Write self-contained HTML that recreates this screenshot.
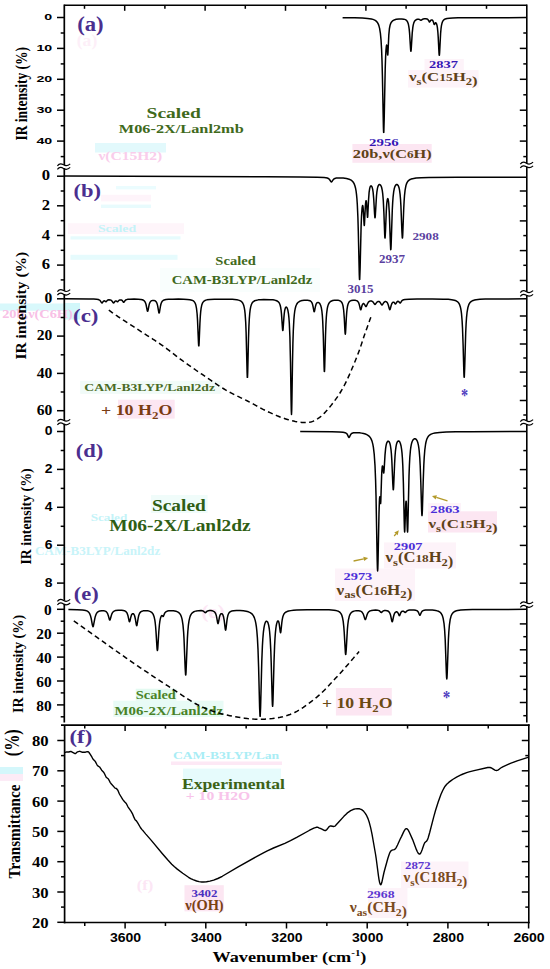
<!DOCTYPE html>
<html><head><meta charset="utf-8"><style>
html,body{margin:0;padding:0;background:#fff;}
svg{display:block;}
</style></head><body>
<svg width="550" height="969" viewBox="0 0 550 969">
<rect width="550" height="969" fill="#fff"/>
<rect x="424.5" y="59.0" width="39.3" height="11.5" fill="#fdf3f9"/>
<rect x="408.0" y="70.0" width="70.6" height="17.6" fill="#fdf3f9"/>
<rect x="352.4" y="144.0" width="79.3" height="18.8" fill="#fce6f2"/>
<rect x="118.0" y="399.7" width="56.7" height="18.9" fill="#fce6f2"/>
<rect x="80.2" y="380.8" width="141.1" height="13.1" fill="#f1fbf8"/>
<rect x="160.0" y="268.0" width="160.0" height="24.0" fill="#f9fefd"/>
<rect x="335.9" y="688.0" width="55.9" height="27.5" fill="#fce6f2"/>
<rect x="428.0" y="503.0" width="33.0" height="8.3" fill="#fdf3f9"/>
<rect x="428.0" y="511.3" width="69.0" height="21.2" fill="#fce6f2"/>
<rect x="384.0" y="542.4" width="72.0" height="26.1" fill="#fdf3f9"/>
<rect x="335.0" y="568.5" width="80.0" height="32.5" fill="#fdf3f9"/>
<rect x="184.5" y="885.2" width="39.3" height="26.2" fill="#fce6f2"/>
<rect x="401.0" y="861.5" width="67.5" height="26.5" fill="#fdf3f9"/>
<rect x="368.0" y="888.0" width="39.4" height="30.0" fill="#fdf3f9"/>
<rect x="151.0" y="495.0" width="56.6" height="18.0" fill="#f0fcfa"/>
<rect x="135.7" y="688.7" width="40.8" height="12.0" fill="#e3faf1"/>
<rect x="113.3" y="700.7" width="110.2" height="16.3" fill="#e8fbf6"/>
<rect x="183.0" y="768.6" width="98.0" height="21.4" fill="#e6fbfc"/>
<rect x="0.0" y="303.5" width="78.0" height="7.2" fill="#d8f8fb"/>
<rect x="0.0" y="767.0" width="23.0" height="7.0" fill="#d4f7fb"/>
<rect x="0.0" y="774.0" width="23.0" height="7.0" fill="#fcebf6"/>
<rect x="95.0" y="143.0" width="71.0" height="9.5" fill="#e2f9fc"/>
<rect x="65.0" y="303.0" width="15.0" height="16.5" fill="#d2f7fa"/>
<rect x="171.0" y="761.5" width="111.0" height="3.5" fill="#fde8f5"/>
<text transform="translate(37.5,318) scale(1.25,1)" font-family="Liberation Serif, serif" font-size="11.5" font-weight="bold" fill="#f8c0e6" text-anchor="middle">20b,ν(C6H)</text>
<text transform="translate(130.3,160.3) scale(1.35,1)" font-family="Liberation Serif, serif" font-size="11.5" font-weight="bold" fill="#f9cdeb" text-anchor="middle">ν(C15H2)</text>
<text transform="translate(226,759) scale(1.3,1)" font-family="Liberation Serif, serif" font-size="10.5" font-weight="bold" fill="#a9edf5" text-anchor="middle">CAM-B3LYP/Lan</text>
<text transform="translate(218,800) scale(1.3,1)" font-family="Liberation Serif, serif" font-size="12" font-weight="bold" fill="#f8c4ea" text-anchor="middle">+ 10 H2O</text>
<text transform="translate(109,521) scale(1.2,1)" font-family="Liberation Serif, serif" font-size="11" font-weight="bold" fill="#c4f3f8" text-anchor="middle">Scaled</text>
<clipPath id="cl1"><rect x="64.5" y="530" width="200" height="40"/></clipPath>
<text transform="translate(35,555) scale(1.09,1)" font-family="Liberation Serif, serif" font-size="12" font-weight="bold" fill="#c8f4f9" text-anchor="start">CAM-B3LYP/Lanl2dz</text>
<rect x="116.0" y="186.0" width="40.0" height="3.4" fill="#ebfcfe"/>
<rect x="101.0" y="194.8" width="50.0" height="6.6" fill="#fef4fa"/>
<rect x="101.0" y="204.6" width="50.0" height="3.4" fill="#e8fbfd"/>
<rect x="68.0" y="223.2" width="116.0" height="10.8" fill="#fef5fa"/>
<rect x="70.5" y="236.3" width="110.0" height="3.2" fill="#e6fbfd"/>
<rect x="70.5" y="254.8" width="107.0" height="5.0" fill="#e6fbfd"/>
<text transform="translate(117,232) scale(1.25,1)" font-family="Liberation Serif, serif" font-size="11" font-weight="bold" fill="#c4f3f8" text-anchor="middle">Scaled</text>
<text transform="translate(87,46) scale(1.1,1)" font-family="Liberation Serif, serif" font-size="16" font-weight="bold" fill="#fdeff8" text-anchor="middle">(a)</text>
<text transform="translate(213,618) scale(1.1,1)" font-family="Liberation Serif, serif" font-size="19" font-weight="bold" fill="#fce6f4" text-anchor="middle">(e)</text>
<text transform="translate(145,890) scale(1.1,1)" font-family="Liberation Serif, serif" font-size="15" font-weight="bold" fill="#fce6f5" text-anchor="middle">(f)</text>
<line x1="64.30" y1="5.30" x2="526.80" y2="5.30" stroke="#000" stroke-width="1.6" />
<line x1="64.30" y1="4.50" x2="64.30" y2="722.50" stroke="#000" stroke-width="1.7" />
<line x1="526.80" y1="4.50" x2="526.80" y2="722.50" stroke="#000" stroke-width="1.6" />
<line x1="61.00" y1="725.10" x2="529.60" y2="725.10" stroke="#000" stroke-width="1.6" />
<line x1="64.60" y1="725.10" x2="64.60" y2="923.30" stroke="#000" stroke-width="1.7" />
<line x1="528.80" y1="724.30" x2="528.80" y2="923.30" stroke="#000" stroke-width="1.6" />
<line x1="63.80" y1="922.50" x2="529.60" y2="922.50" stroke="#000" stroke-width="1.6" />
<line x1="84.50" y1="5.30" x2="84.50" y2="8.80" stroke="#000" stroke-width="1.5" />
<line x1="124.70" y1="5.30" x2="124.70" y2="10.80" stroke="#000" stroke-width="1.5" />
<line x1="164.90" y1="5.30" x2="164.90" y2="8.80" stroke="#000" stroke-width="1.5" />
<line x1="205.10" y1="5.30" x2="205.10" y2="10.80" stroke="#000" stroke-width="1.5" />
<line x1="245.30" y1="5.30" x2="245.30" y2="8.80" stroke="#000" stroke-width="1.5" />
<line x1="285.50" y1="5.30" x2="285.50" y2="10.80" stroke="#000" stroke-width="1.5" />
<line x1="325.70" y1="5.30" x2="325.70" y2="8.80" stroke="#000" stroke-width="1.5" />
<line x1="365.90" y1="5.30" x2="365.90" y2="10.80" stroke="#000" stroke-width="1.5" />
<line x1="406.10" y1="5.30" x2="406.10" y2="8.80" stroke="#000" stroke-width="1.5" />
<line x1="446.30" y1="5.30" x2="446.30" y2="10.80" stroke="#000" stroke-width="1.5" />
<line x1="486.50" y1="5.30" x2="486.50" y2="8.80" stroke="#000" stroke-width="1.5" />
<line x1="84.75" y1="725.10" x2="84.75" y2="728.60" stroke="#000" stroke-width="1.5" />
<line x1="84.75" y1="922.50" x2="84.75" y2="926.00" stroke="#000" stroke-width="1.5" />
<line x1="125.10" y1="725.10" x2="125.10" y2="731.10" stroke="#000" stroke-width="1.5" />
<line x1="125.10" y1="922.50" x2="125.10" y2="928.50" stroke="#000" stroke-width="1.5" />
<line x1="165.45" y1="725.10" x2="165.45" y2="728.60" stroke="#000" stroke-width="1.5" />
<line x1="165.45" y1="922.50" x2="165.45" y2="926.00" stroke="#000" stroke-width="1.5" />
<line x1="205.80" y1="725.10" x2="205.80" y2="731.10" stroke="#000" stroke-width="1.5" />
<line x1="205.80" y1="922.50" x2="205.80" y2="928.50" stroke="#000" stroke-width="1.5" />
<line x1="246.15" y1="725.10" x2="246.15" y2="728.60" stroke="#000" stroke-width="1.5" />
<line x1="246.15" y1="922.50" x2="246.15" y2="926.00" stroke="#000" stroke-width="1.5" />
<line x1="286.50" y1="725.10" x2="286.50" y2="731.10" stroke="#000" stroke-width="1.5" />
<line x1="286.50" y1="922.50" x2="286.50" y2="928.50" stroke="#000" stroke-width="1.5" />
<line x1="326.85" y1="725.10" x2="326.85" y2="728.60" stroke="#000" stroke-width="1.5" />
<line x1="326.85" y1="922.50" x2="326.85" y2="926.00" stroke="#000" stroke-width="1.5" />
<line x1="367.20" y1="725.10" x2="367.20" y2="731.10" stroke="#000" stroke-width="1.5" />
<line x1="367.20" y1="922.50" x2="367.20" y2="928.50" stroke="#000" stroke-width="1.5" />
<line x1="407.55" y1="725.10" x2="407.55" y2="728.60" stroke="#000" stroke-width="1.5" />
<line x1="407.55" y1="922.50" x2="407.55" y2="926.00" stroke="#000" stroke-width="1.5" />
<line x1="447.90" y1="725.10" x2="447.90" y2="731.10" stroke="#000" stroke-width="1.5" />
<line x1="447.90" y1="922.50" x2="447.90" y2="928.50" stroke="#000" stroke-width="1.5" />
<line x1="488.25" y1="725.10" x2="488.25" y2="728.60" stroke="#000" stroke-width="1.5" />
<line x1="488.25" y1="922.50" x2="488.25" y2="926.00" stroke="#000" stroke-width="1.5" />
<line x1="528.60" y1="922.50" x2="528.60" y2="928.50" stroke="#000" stroke-width="1.5" />
<line x1="57.00" y1="17.50" x2="64.30" y2="17.50" stroke="#000" stroke-width="1.5" />
<line x1="57.00" y1="48.40" x2="64.30" y2="48.40" stroke="#000" stroke-width="1.5" />
<line x1="57.00" y1="79.30" x2="64.30" y2="79.30" stroke="#000" stroke-width="1.5" />
<line x1="57.00" y1="110.20" x2="64.30" y2="110.20" stroke="#000" stroke-width="1.5" />
<line x1="57.00" y1="141.10" x2="64.30" y2="141.10" stroke="#000" stroke-width="1.5" />
<line x1="60.70" y1="33.00" x2="64.30" y2="33.00" stroke="#000" stroke-width="1.5" />
<line x1="60.70" y1="63.90" x2="64.30" y2="63.90" stroke="#000" stroke-width="1.5" />
<line x1="60.70" y1="94.80" x2="64.30" y2="94.80" stroke="#000" stroke-width="1.5" />
<line x1="60.70" y1="125.70" x2="64.30" y2="125.70" stroke="#000" stroke-width="1.5" />
<line x1="60.70" y1="156.60" x2="64.30" y2="156.60" stroke="#000" stroke-width="1.5" />
<line x1="519.80" y1="48.40" x2="526.80" y2="48.40" stroke="#000" stroke-width="1.5" />
<line x1="519.80" y1="79.30" x2="526.80" y2="79.30" stroke="#000" stroke-width="1.5" />
<line x1="519.80" y1="110.20" x2="526.80" y2="110.20" stroke="#000" stroke-width="1.5" />
<line x1="519.80" y1="141.10" x2="526.80" y2="141.10" stroke="#000" stroke-width="1.5" />
<line x1="523.30" y1="33.00" x2="526.80" y2="33.00" stroke="#000" stroke-width="1.5" />
<line x1="523.30" y1="63.90" x2="526.80" y2="63.90" stroke="#000" stroke-width="1.5" />
<line x1="523.30" y1="94.80" x2="526.80" y2="94.80" stroke="#000" stroke-width="1.5" />
<line x1="523.30" y1="125.70" x2="526.80" y2="125.70" stroke="#000" stroke-width="1.5" />
<line x1="523.30" y1="156.60" x2="526.80" y2="156.60" stroke="#000" stroke-width="1.5" />
<text transform="translate(52.30,20.40) scale(1.431,1)" font-family="'Liberation Sans', sans-serif" font-size="9.96" font-weight="bold" fill="#000" text-anchor="end" >0</text>
<text transform="translate(52.30,51.30) scale(1.431,1)" font-family="'Liberation Sans', sans-serif" font-size="9.96" font-weight="bold" fill="#000" text-anchor="end" >10</text>
<text transform="translate(52.30,82.20) scale(1.431,1)" font-family="'Liberation Sans', sans-serif" font-size="9.96" font-weight="bold" fill="#000" text-anchor="end" >20</text>
<text transform="translate(52.30,113.10) scale(1.431,1)" font-family="'Liberation Sans', sans-serif" font-size="9.96" font-weight="bold" fill="#000" text-anchor="end" >30</text>
<text transform="translate(52.30,144.00) scale(1.431,1)" font-family="'Liberation Sans', sans-serif" font-size="9.96" font-weight="bold" fill="#000" text-anchor="end" >40</text>
<line x1="57.00" y1="176.20" x2="64.30" y2="176.20" stroke="#000" stroke-width="1.5" />
<line x1="57.00" y1="205.80" x2="64.30" y2="205.80" stroke="#000" stroke-width="1.5" />
<line x1="57.00" y1="235.50" x2="64.30" y2="235.50" stroke="#000" stroke-width="1.5" />
<line x1="57.00" y1="265.10" x2="64.30" y2="265.10" stroke="#000" stroke-width="1.5" />
<line x1="60.70" y1="191.00" x2="64.30" y2="191.00" stroke="#000" stroke-width="1.5" />
<line x1="60.70" y1="220.70" x2="64.30" y2="220.70" stroke="#000" stroke-width="1.5" />
<line x1="60.70" y1="250.30" x2="64.30" y2="250.30" stroke="#000" stroke-width="1.5" />
<line x1="60.70" y1="279.90" x2="64.30" y2="279.90" stroke="#000" stroke-width="1.5" />
<line x1="519.80" y1="191.00" x2="526.80" y2="191.00" stroke="#000" stroke-width="1.5" />
<line x1="519.80" y1="220.90" x2="526.80" y2="220.90" stroke="#000" stroke-width="1.5" />
<line x1="519.80" y1="250.60" x2="526.80" y2="250.60" stroke="#000" stroke-width="1.5" />
<line x1="519.80" y1="280.50" x2="526.80" y2="280.50" stroke="#000" stroke-width="1.5" />
<line x1="523.30" y1="206.00" x2="526.80" y2="206.00" stroke="#000" stroke-width="1.5" />
<line x1="523.30" y1="235.60" x2="526.80" y2="235.60" stroke="#000" stroke-width="1.5" />
<line x1="523.30" y1="265.30" x2="526.80" y2="265.30" stroke="#000" stroke-width="1.5" />
<text transform="translate(50.03,180.40) scale(1.095,1)" font-family="'Liberation Serif', serif" font-size="15.18" font-weight="bold" fill="#000" text-anchor="end" >0</text>
<text transform="translate(50.03,210.00) scale(1.095,1)" font-family="'Liberation Serif', serif" font-size="15.18" font-weight="bold" fill="#000" text-anchor="end" >2</text>
<text transform="translate(50.03,239.70) scale(1.095,1)" font-family="'Liberation Serif', serif" font-size="15.18" font-weight="bold" fill="#000" text-anchor="end" >4</text>
<text transform="translate(50.03,269.30) scale(1.095,1)" font-family="'Liberation Serif', serif" font-size="15.18" font-weight="bold" fill="#000" text-anchor="end" >6</text>
<line x1="57.00" y1="298.80" x2="64.30" y2="298.80" stroke="#000" stroke-width="1.5" />
<line x1="57.00" y1="336.10" x2="64.30" y2="336.10" stroke="#000" stroke-width="1.5" />
<line x1="57.00" y1="373.40" x2="64.30" y2="373.40" stroke="#000" stroke-width="1.5" />
<line x1="57.00" y1="410.70" x2="64.30" y2="410.70" stroke="#000" stroke-width="1.5" />
<line x1="60.70" y1="317.50" x2="64.30" y2="317.50" stroke="#000" stroke-width="1.5" />
<line x1="60.70" y1="354.80" x2="64.30" y2="354.80" stroke="#000" stroke-width="1.5" />
<line x1="60.70" y1="392.00" x2="64.30" y2="392.00" stroke="#000" stroke-width="1.5" />
<line x1="519.80" y1="316.00" x2="526.80" y2="316.00" stroke="#000" stroke-width="1.5" />
<line x1="519.80" y1="344.00" x2="526.80" y2="344.00" stroke="#000" stroke-width="1.5" />
<line x1="519.80" y1="372.10" x2="526.80" y2="372.10" stroke="#000" stroke-width="1.5" />
<line x1="519.80" y1="400.50" x2="526.80" y2="400.50" stroke="#000" stroke-width="1.5" />
<line x1="523.30" y1="330.00" x2="526.80" y2="330.00" stroke="#000" stroke-width="1.5" />
<line x1="523.30" y1="358.00" x2="526.80" y2="358.00" stroke="#000" stroke-width="1.5" />
<line x1="523.30" y1="386.10" x2="526.80" y2="386.10" stroke="#000" stroke-width="1.5" />
<line x1="523.30" y1="415.00" x2="526.80" y2="415.00" stroke="#000" stroke-width="1.5" />
<text transform="translate(52.30,303.10) scale(1.116,1)" font-family="'Liberation Serif', serif" font-size="13.98" font-weight="bold" fill="#000" text-anchor="end" >0</text>
<text transform="translate(52.30,340.40) scale(1.116,1)" font-family="'Liberation Serif', serif" font-size="13.98" font-weight="bold" fill="#000" text-anchor="end" >20</text>
<text transform="translate(52.30,377.70) scale(1.116,1)" font-family="'Liberation Serif', serif" font-size="13.98" font-weight="bold" fill="#000" text-anchor="end" >40</text>
<text transform="translate(52.30,415.00) scale(1.116,1)" font-family="'Liberation Serif', serif" font-size="13.98" font-weight="bold" fill="#000" text-anchor="end" >60</text>
<line x1="57.00" y1="431.50" x2="64.30" y2="431.50" stroke="#000" stroke-width="1.5" />
<line x1="57.00" y1="469.40" x2="64.30" y2="469.40" stroke="#000" stroke-width="1.5" />
<line x1="57.00" y1="507.30" x2="64.30" y2="507.30" stroke="#000" stroke-width="1.5" />
<line x1="57.00" y1="545.20" x2="64.30" y2="545.20" stroke="#000" stroke-width="1.5" />
<line x1="57.00" y1="583.10" x2="64.30" y2="583.10" stroke="#000" stroke-width="1.5" />
<line x1="60.70" y1="450.50" x2="64.30" y2="450.50" stroke="#000" stroke-width="1.5" />
<line x1="60.70" y1="488.40" x2="64.30" y2="488.40" stroke="#000" stroke-width="1.5" />
<line x1="60.70" y1="526.30" x2="64.30" y2="526.30" stroke="#000" stroke-width="1.5" />
<line x1="60.70" y1="564.20" x2="64.30" y2="564.20" stroke="#000" stroke-width="1.5" />
<line x1="519.80" y1="469.60" x2="526.80" y2="469.60" stroke="#000" stroke-width="1.5" />
<line x1="519.80" y1="507.40" x2="526.80" y2="507.40" stroke="#000" stroke-width="1.5" />
<line x1="519.80" y1="545.40" x2="526.80" y2="545.40" stroke="#000" stroke-width="1.5" />
<line x1="519.80" y1="583.20" x2="526.80" y2="583.20" stroke="#000" stroke-width="1.5" />
<line x1="523.30" y1="450.60" x2="526.80" y2="450.60" stroke="#000" stroke-width="1.5" />
<line x1="523.30" y1="488.20" x2="526.80" y2="488.20" stroke="#000" stroke-width="1.5" />
<line x1="523.30" y1="526.40" x2="526.80" y2="526.40" stroke="#000" stroke-width="1.5" />
<line x1="523.30" y1="564.00" x2="526.80" y2="564.00" stroke="#000" stroke-width="1.5" />
<text transform="translate(52.44,435.10) scale(1.059,1)" font-family="'Liberation Sans', sans-serif" font-size="13.14" font-weight="bold" fill="#000" text-anchor="end" >0</text>
<text transform="translate(52.44,473.00) scale(1.059,1)" font-family="'Liberation Sans', sans-serif" font-size="13.14" font-weight="bold" fill="#000" text-anchor="end" >2</text>
<text transform="translate(52.44,510.90) scale(1.059,1)" font-family="'Liberation Sans', sans-serif" font-size="13.14" font-weight="bold" fill="#000" text-anchor="end" >4</text>
<text transform="translate(52.44,548.80) scale(1.059,1)" font-family="'Liberation Sans', sans-serif" font-size="13.14" font-weight="bold" fill="#000" text-anchor="end" >6</text>
<text transform="translate(52.44,586.70) scale(1.059,1)" font-family="'Liberation Sans', sans-serif" font-size="13.14" font-weight="bold" fill="#000" text-anchor="end" >8</text>
<line x1="57.00" y1="609.30" x2="64.30" y2="609.30" stroke="#000" stroke-width="1.5" />
<line x1="57.00" y1="633.20" x2="64.30" y2="633.20" stroke="#000" stroke-width="1.5" />
<line x1="57.00" y1="657.10" x2="64.30" y2="657.10" stroke="#000" stroke-width="1.5" />
<line x1="57.00" y1="681.00" x2="64.30" y2="681.00" stroke="#000" stroke-width="1.5" />
<line x1="57.00" y1="704.90" x2="64.30" y2="704.90" stroke="#000" stroke-width="1.5" />
<line x1="60.70" y1="621.20" x2="64.30" y2="621.20" stroke="#000" stroke-width="1.5" />
<line x1="60.70" y1="645.10" x2="64.30" y2="645.10" stroke="#000" stroke-width="1.5" />
<line x1="60.70" y1="669.00" x2="64.30" y2="669.00" stroke="#000" stroke-width="1.5" />
<line x1="60.70" y1="692.90" x2="64.30" y2="692.90" stroke="#000" stroke-width="1.5" />
<line x1="60.70" y1="716.80" x2="64.30" y2="716.80" stroke="#000" stroke-width="1.5" />
<line x1="519.80" y1="623.90" x2="526.80" y2="623.90" stroke="#000" stroke-width="1.5" />
<line x1="519.80" y1="649.80" x2="526.80" y2="649.80" stroke="#000" stroke-width="1.5" />
<line x1="519.80" y1="676.30" x2="526.80" y2="676.30" stroke="#000" stroke-width="1.5" />
<line x1="519.80" y1="702.50" x2="526.80" y2="702.50" stroke="#000" stroke-width="1.5" />
<line x1="523.30" y1="636.70" x2="526.80" y2="636.70" stroke="#000" stroke-width="1.5" />
<line x1="523.30" y1="663.00" x2="526.80" y2="663.00" stroke="#000" stroke-width="1.5" />
<line x1="523.30" y1="689.40" x2="526.80" y2="689.40" stroke="#000" stroke-width="1.5" />
<line x1="523.30" y1="715.70" x2="526.80" y2="715.70" stroke="#000" stroke-width="1.5" />
<text transform="translate(51.68,615.00) scale(1.054,1)" font-family="'Liberation Serif', serif" font-size="14.58" font-weight="bold" fill="#000" text-anchor="end" >0</text>
<text transform="translate(51.68,638.90) scale(1.054,1)" font-family="'Liberation Serif', serif" font-size="14.58" font-weight="bold" fill="#000" text-anchor="end" >20</text>
<text transform="translate(51.68,662.80) scale(1.054,1)" font-family="'Liberation Serif', serif" font-size="14.58" font-weight="bold" fill="#000" text-anchor="end" >40</text>
<text transform="translate(51.68,686.70) scale(1.054,1)" font-family="'Liberation Serif', serif" font-size="14.58" font-weight="bold" fill="#000" text-anchor="end" >60</text>
<text transform="translate(51.68,710.60) scale(1.054,1)" font-family="'Liberation Serif', serif" font-size="14.58" font-weight="bold" fill="#000" text-anchor="end" >80</text>
<line x1="57.30" y1="740.50" x2="64.60" y2="740.50" stroke="#000" stroke-width="1.5" />
<line x1="57.30" y1="770.80" x2="64.60" y2="770.80" stroke="#000" stroke-width="1.5" />
<line x1="57.30" y1="801.10" x2="64.60" y2="801.10" stroke="#000" stroke-width="1.5" />
<line x1="57.30" y1="831.40" x2="64.60" y2="831.40" stroke="#000" stroke-width="1.5" />
<line x1="57.30" y1="861.70" x2="64.60" y2="861.70" stroke="#000" stroke-width="1.5" />
<line x1="57.30" y1="892.00" x2="64.60" y2="892.00" stroke="#000" stroke-width="1.5" />
<line x1="57.30" y1="922.30" x2="64.60" y2="922.30" stroke="#000" stroke-width="1.5" />
<line x1="61.00" y1="755.60" x2="64.60" y2="755.60" stroke="#000" stroke-width="1.5" />
<line x1="61.00" y1="785.90" x2="64.60" y2="785.90" stroke="#000" stroke-width="1.5" />
<line x1="61.00" y1="816.20" x2="64.60" y2="816.20" stroke="#000" stroke-width="1.5" />
<line x1="61.00" y1="846.50" x2="64.60" y2="846.50" stroke="#000" stroke-width="1.5" />
<line x1="61.00" y1="876.80" x2="64.60" y2="876.80" stroke="#000" stroke-width="1.5" />
<line x1="61.00" y1="907.10" x2="64.60" y2="907.10" stroke="#000" stroke-width="1.5" />
<line x1="521.80" y1="740.50" x2="528.80" y2="740.50" stroke="#000" stroke-width="1.5" />
<line x1="521.80" y1="770.80" x2="528.80" y2="770.80" stroke="#000" stroke-width="1.5" />
<line x1="521.80" y1="801.10" x2="528.80" y2="801.10" stroke="#000" stroke-width="1.5" />
<line x1="521.80" y1="831.40" x2="528.80" y2="831.40" stroke="#000" stroke-width="1.5" />
<line x1="521.80" y1="861.70" x2="528.80" y2="861.70" stroke="#000" stroke-width="1.5" />
<line x1="521.80" y1="892.00" x2="528.80" y2="892.00" stroke="#000" stroke-width="1.5" />
<line x1="525.30" y1="755.60" x2="528.80" y2="755.60" stroke="#000" stroke-width="1.5" />
<line x1="525.30" y1="785.90" x2="528.80" y2="785.90" stroke="#000" stroke-width="1.5" />
<line x1="525.30" y1="816.20" x2="528.80" y2="816.20" stroke="#000" stroke-width="1.5" />
<line x1="525.30" y1="846.50" x2="528.80" y2="846.50" stroke="#000" stroke-width="1.5" />
<line x1="525.30" y1="876.80" x2="528.80" y2="876.80" stroke="#000" stroke-width="1.5" />
<line x1="525.30" y1="907.10" x2="528.80" y2="907.10" stroke="#000" stroke-width="1.5" />
<text transform="translate(48.57,746.10) scale(1.069,1)" font-family="'Liberation Serif', serif" font-size="15.58" font-weight="bold" fill="#000" text-anchor="end" >80</text>
<text transform="translate(48.57,776.40) scale(1.069,1)" font-family="'Liberation Serif', serif" font-size="15.58" font-weight="bold" fill="#000" text-anchor="end" >70</text>
<text transform="translate(48.57,806.70) scale(1.069,1)" font-family="'Liberation Serif', serif" font-size="15.58" font-weight="bold" fill="#000" text-anchor="end" >60</text>
<text transform="translate(48.57,837.00) scale(1.069,1)" font-family="'Liberation Serif', serif" font-size="15.58" font-weight="bold" fill="#000" text-anchor="end" >50</text>
<text transform="translate(48.57,867.30) scale(1.069,1)" font-family="'Liberation Serif', serif" font-size="15.58" font-weight="bold" fill="#000" text-anchor="end" >40</text>
<text transform="translate(48.57,897.60) scale(1.069,1)" font-family="'Liberation Serif', serif" font-size="15.58" font-weight="bold" fill="#000" text-anchor="end" >30</text>
<text transform="translate(48.57,927.90) scale(1.069,1)" font-family="'Liberation Serif', serif" font-size="15.58" font-weight="bold" fill="#000" text-anchor="end" >20</text>
<text transform="translate(125.55,942.40) scale(1.086,1)" font-family="'Liberation Sans', sans-serif" font-size="12.93" font-weight="bold" fill="#000" text-anchor="middle" >3600</text>
<text transform="translate(206.25,942.40) scale(1.086,1)" font-family="'Liberation Sans', sans-serif" font-size="12.93" font-weight="bold" fill="#000" text-anchor="middle" >3400</text>
<text transform="translate(286.95,942.40) scale(1.086,1)" font-family="'Liberation Sans', sans-serif" font-size="12.93" font-weight="bold" fill="#000" text-anchor="middle" >3200</text>
<text transform="translate(367.65,942.40) scale(1.086,1)" font-family="'Liberation Sans', sans-serif" font-size="12.93" font-weight="bold" fill="#000" text-anchor="middle" >3000</text>
<text transform="translate(448.35,942.40) scale(1.086,1)" font-family="'Liberation Sans', sans-serif" font-size="12.93" font-weight="bold" fill="#000" text-anchor="middle" >2800</text>
<text transform="translate(529.05,942.40) scale(1.086,1)" font-family="'Liberation Sans', sans-serif" font-size="12.93" font-weight="bold" fill="#000" text-anchor="middle" >2600</text>
<rect x="62.8" y="165.0" width="3" height="3.2" fill="#fff"/>
<path d="M57.4,165.8 C59.2,163.2 61.7,163.6 63.5,164.8 S67.7,166.2 70.2,163.8" fill="none" stroke="#000" stroke-width="1.15"/>
<path d="M57.4,169.4 C59.2,166.8 61.7,167.2 63.5,168.4 S67.7,169.8 70.2,167.4" fill="none" stroke="#000" stroke-width="1.15"/>
<rect x="62.8" y="290.8" width="3" height="3.2" fill="#fff"/>
<path d="M57.4,291.6 C59.2,289.0 61.7,289.4 63.5,290.6 S67.7,292.0 70.2,289.6" fill="none" stroke="#000" stroke-width="1.15"/>
<path d="M57.4,295.2 C59.2,292.6 61.7,293.0 63.5,294.2 S67.7,295.6 70.2,293.2" fill="none" stroke="#000" stroke-width="1.15"/>
<rect x="62.8" y="420.5" width="3" height="3.2" fill="#fff"/>
<path d="M57.4,421.3 C59.2,418.7 61.7,419.1 63.5,420.3 S67.7,421.7 70.2,419.3" fill="none" stroke="#000" stroke-width="1.15"/>
<path d="M57.4,424.9 C59.2,422.3 61.7,422.7 63.5,423.9 S67.7,425.3 70.2,422.9" fill="none" stroke="#000" stroke-width="1.15"/>
<rect x="62.8" y="600.6" width="3" height="3.2" fill="#fff"/>
<path d="M57.4,601.4 C59.2,598.8 61.7,599.2 63.5,600.4 S67.7,601.8 70.2,599.4" fill="none" stroke="#000" stroke-width="1.15"/>
<path d="M57.4,605.0 C59.2,602.4 61.7,602.8 63.5,604.0 S67.7,605.4 70.2,603.0" fill="none" stroke="#000" stroke-width="1.15"/>
<rect x="525.3" y="163.4" width="3" height="3.2" fill="#fff"/>
<path d="M520.3,164.2 C522.1,161.6 524.6,162.0 526.4,163.2 S530.6,164.6 533.1,162.2" fill="none" stroke="#000" stroke-width="1.15"/>
<path d="M520.3,167.8 C522.1,165.2 524.6,165.6 526.4,166.8 S530.6,168.2 533.1,165.8" fill="none" stroke="#000" stroke-width="1.15"/>
<rect x="525.3" y="291.9" width="3" height="3.2" fill="#fff"/>
<path d="M520.3,292.7 C522.1,290.1 524.6,290.5 526.4,291.7 S530.6,293.1 533.1,290.7" fill="none" stroke="#000" stroke-width="1.15"/>
<path d="M520.3,296.3 C522.1,293.7 524.6,294.1 526.4,295.3 S530.6,296.7 533.1,294.3" fill="none" stroke="#000" stroke-width="1.15"/>
<rect x="525.3" y="420.9" width="3" height="3.2" fill="#fff"/>
<path d="M520.3,421.7 C522.1,419.1 524.6,419.5 526.4,420.7 S530.6,422.1 533.1,419.7" fill="none" stroke="#000" stroke-width="1.15"/>
<path d="M520.3,425.3 C522.1,422.7 524.6,423.1 526.4,424.3 S530.6,425.7 533.1,423.3" fill="none" stroke="#000" stroke-width="1.15"/>
<rect x="525.3" y="603.0" width="3" height="3.2" fill="#fff"/>
<path d="M520.3,603.8 C522.1,601.2 524.6,601.6 526.4,602.8 S530.6,604.2 533.1,601.8" fill="none" stroke="#000" stroke-width="1.15"/>
<path d="M520.3,607.4 C522.1,604.8 524.6,605.2 526.4,606.4 S530.6,607.8 533.1,605.4" fill="none" stroke="#000" stroke-width="1.15"/>
<text transform="translate(26.82,93.75) scale(1.272,1) rotate(-90)" font-family="'Liberation Serif', serif" font-size="13.5" font-weight="bold" fill="#000" text-anchor="middle">IR intensity (%)</text>
<text transform="translate(25.73,305.65) scale(1.002,1) rotate(-90)" font-family="'Liberation Serif', serif" font-size="15.53" font-weight="bold" fill="#000" text-anchor="middle">IR intensity (%)</text>
<text transform="translate(31.20,516.48) scale(1.079,1) rotate(-90)" font-family="'Liberation Serif', serif" font-size="13.86" font-weight="bold" fill="#000" text-anchor="middle">IR intensity (%)</text>
<text transform="translate(23.17,663.90) scale(1.062,1) rotate(-90)" font-family="'Liberation Serif', serif" font-size="14.15" font-weight="bold" fill="#000" text-anchor="middle">IR intensity (%)</text>
<text transform="translate(20.35,831.57) scale(1.145,1) rotate(-90)" font-family="'Liberation Serif', serif" font-size="15.16" font-weight="bold" fill="#000" text-anchor="middle">Transmittance</text>
<text transform="translate(19.15,742.75) scale(1.256,1) rotate(-90)" font-family="'Liberation Serif', serif" font-size="16.23" font-weight="bold" fill="#000" text-anchor="middle">(%)</text>
<text transform="translate(90.40,30.80) scale(1.138,1)" font-family="'Liberation Serif', serif" font-size="20.00" font-weight="bold" fill="#4b2f8f" text-anchor="middle">(a)</text>
<text transform="translate(87.25,197.30) scale(1.147,1)" font-family="'Liberation Serif', serif" font-size="19.64" font-weight="bold" fill="#4b2f8f" text-anchor="middle">(b)</text>
<text transform="translate(85.77,322.30) scale(1.161,1)" font-family="'Liberation Serif', serif" font-size="19.73" font-weight="bold" fill="#4b2f8f" text-anchor="middle">(c)</text>
<text transform="translate(89.42,457.30) scale(1.144,1)" font-family="'Liberation Serif', serif" font-size="19.72" font-weight="bold" fill="#4b2f8f" text-anchor="middle">(d)</text>
<text transform="translate(86.30,599.50) scale(1.140,1)" font-family="'Liberation Serif', serif" font-size="19.72" font-weight="bold" fill="#4b2f8f" text-anchor="middle">(e)</text>
<text transform="translate(80.90,743.40) scale(1.168,1)" font-family="'Liberation Serif', serif" font-size="19.42" font-weight="bold" fill="#4b2f8f" text-anchor="middle">(f)</text>
<text transform="translate(173.65,117.70) scale(1.348,1)" font-family="'Liberation Serif', serif" font-size="14.50" font-weight="bold" fill="#3f6a1c" text-anchor="middle">Scaled</text>
<text transform="translate(181.27,132.80) scale(1.295,1)" font-family="'Liberation Serif', serif" font-size="12.58" font-weight="bold" fill="#3f6a1c" text-anchor="middle">M06-2X/Lanl2mb</text>
<text transform="translate(235.53,265.10) scale(1.163,1)" font-family="'Liberation Serif', serif" font-size="12.50" font-weight="bold" fill="#3f6a1c" text-anchor="middle">Scaled</text>
<text transform="translate(241.95,283.50) scale(1.136,1)" font-family="'Liberation Serif', serif" font-size="12.94" font-weight="bold" fill="#3f6a1c" text-anchor="middle">CAM-B3LYP/Lanl2dz</text>
<text transform="translate(149.62,390.80) scale(1.334,1)" font-family="'Liberation Serif', serif" font-size="10.24" font-weight="bold" fill="#4a6a24" text-anchor="middle">CAM-B3LYP/Lanl2dz</text>
<text transform="translate(178.85,511.40) scale(1.120,1)" font-family="'Liberation Serif', serif" font-size="17.34" font-weight="bold" fill="#2f5e14" text-anchor="middle">Scaled</text>
<text transform="translate(180.00,531.40) scale(1.102,1)" font-family="'Liberation Serif', serif" font-size="17.64" font-weight="bold" fill="#2f5e14" text-anchor="middle">M06-2X/Lanl2dz</text>
<text transform="translate(155.85,698.50) scale(1.239,1)" font-family="'Liberation Serif', serif" font-size="11.64" font-weight="bold" fill="#4a8228" text-anchor="middle">Scaled</text>
<text transform="translate(168.82,714.80) scale(1.154,1)" font-family="'Liberation Serif', serif" font-size="12.94" font-weight="bold" fill="#4a8228" text-anchor="middle">M06-2X/Lanl2dz</text>
<text transform="translate(233.42,788.70) scale(1.277,1)" font-family="'Liberation Serif', serif" font-size="13.84" font-weight="bold" fill="#3c6216" text-anchor="middle">Experimental</text>
<text transform="translate(136.67,414.90) scale(1.237,1)" font-family="'Liberation Serif', serif" font-size="14.50" font-weight="bold" fill="#7a3c12" text-anchor="middle">+ 10 H<tspan font-size="10.44" dy="3.62">2</tspan><tspan dy="-3.62">O</tspan></text>
<text transform="translate(357.23,708.10) scale(1.154,1)" font-family="'Liberation Serif', serif" font-size="15.33" font-weight="bold" fill="#6b4a14" text-anchor="middle">+ 10 H<tspan font-size="11.04" dy="3.83">2</tspan><tspan dy="-3.83">O</tspan></text>
<text transform="translate(443.50,68.10) scale(1.339,1)" font-family="'Liberation Serif', serif" font-size="10.83" font-weight="bold" fill="#3517b5" text-anchor="middle">2837</text>
<text transform="translate(443.37,81.20) scale(1.308,1)" font-family="'Liberation Serif', serif" font-size="12.87" font-weight="bold" fill="#5e4218" text-anchor="middle">ν<tspan font-size="9.65" dy="3.47">s</tspan><tspan dy="-3.47">(</tspan>C<tspan font-size="10.3">15</tspan>H<tspan font-size="9.65" dy="3.47">2</tspan><tspan dy="-3.47"></tspan>)</text>
<text transform="translate(383.88,146.10) scale(1.508,1)" font-family="'Liberation Serif', serif" font-size="9.86" font-weight="bold" fill="#3517b5" text-anchor="middle">2956</text>
<text transform="translate(392.25,157.90) scale(1.334,1)" font-family="'Liberation Serif', serif" font-size="12.28" font-weight="bold" fill="#5e4218" text-anchor="middle">20b,ν(C<tspan font-size="9.82">6</tspan>H)</text>
<text transform="translate(360.50,293.00) scale(1.095,1)" font-family="'Liberation Serif', serif" font-size="11.87" font-weight="bold" fill="#5b3f9f" text-anchor="middle">3015</text>
<text transform="translate(392.10,262.60) scale(1.099,1)" font-family="'Liberation Serif', serif" font-size="11.87" font-weight="bold" fill="#5b3f9f" text-anchor="middle">2937</text>
<text transform="translate(425.62,240.00) scale(1.185,1)" font-family="'Liberation Serif', serif" font-size="11.12" font-weight="bold" fill="#5b3f9f" text-anchor="middle">2908</text>
<text transform="translate(444.97,513.30) scale(1.307,1)" font-family="'Liberation Serif', serif" font-size="11.20" font-weight="bold" fill="#4a2ed8" text-anchor="middle">2863</text>
<text transform="translate(463.10,528.10) scale(1.283,1)" font-family="'Liberation Serif', serif" font-size="13.20" font-weight="bold" fill="#5e4218" text-anchor="middle">ν<tspan font-size="9.9" dy="3.56">s</tspan><tspan dy="-3.56">(</tspan>C<tspan font-size="10.56">15</tspan>H<tspan font-size="9.9" dy="3.56">2</tspan><tspan dy="-3.56"></tspan>)</text>
<text transform="translate(408.13,550.30) scale(1.323,1)" font-family="'Liberation Serif', serif" font-size="10.83" font-weight="bold" fill="#4a2ed8" text-anchor="middle">2907</text>
<text transform="translate(419.50,561.90) scale(1.223,1)" font-family="'Liberation Serif', serif" font-size="13.58" font-weight="bold" fill="#5e4218" text-anchor="middle">ν<tspan font-size="10.19" dy="3.67">s</tspan><tspan dy="-3.67">(</tspan>C<tspan font-size="10.86">18</tspan>H<tspan font-size="10.19" dy="3.67">2</tspan><tspan dy="-3.67"></tspan>)</text>
<text transform="translate(357.90,580.10) scale(1.286,1)" font-family="'Liberation Serif', serif" font-size="11.20" font-weight="bold" fill="#4a2ed8" text-anchor="middle">2973</text>
<text transform="translate(374.50,594.50) scale(1.160,1)" font-family="'Liberation Serif', serif" font-size="14.69" font-weight="bold" fill="#5e4218" text-anchor="middle">ν<tspan font-size="11.02" dy="3.97">as</tspan><tspan dy="-3.97">(</tspan>C<tspan font-size="11.75">16</tspan>H<tspan font-size="11.02" dy="3.97">2</tspan><tspan dy="-3.97"></tspan>)</text>
<text transform="translate(204.60,896.50) scale(1.250,1)" font-family="'Liberation Serif', serif" font-size="10.40" font-weight="bold" fill="#4a30c0" text-anchor="middle">3402</text>
<text transform="translate(204.42,910.20) scale(1.033,1)" font-family="'Liberation Serif', serif" font-size="13.96" font-weight="bold" fill="#7a4012" text-anchor="middle">ν(OH)</text>
<text transform="translate(380.75,898.30) scale(1.214,1)" font-family="'Liberation Serif', serif" font-size="11.35" font-weight="bold" fill="#5a36d0" text-anchor="middle">2968</text>
<text transform="translate(378.32,911.60) scale(1.081,1)" font-family="'Liberation Serif', serif" font-size="14.47" font-weight="bold" fill="#7a4a20" text-anchor="middle">ν<tspan font-size="10.85" dy="3.91">as</tspan><tspan dy="-3.91">(</tspan>CH<tspan font-size="10.85" dy="3.91">2</tspan><tspan dy="-3.91"></tspan>)</text>
<text transform="translate(417.85,869.10) scale(1.136,1)" font-family="'Liberation Serif', serif" font-size="11.35" font-weight="bold" fill="#5a36d0" text-anchor="middle">2872</text>
<text transform="translate(435.35,881.80) scale(1.084,1)" font-family="'Liberation Serif', serif" font-size="13.76" font-weight="bold" fill="#7a4a20" text-anchor="middle">ν<tspan font-size="10.32" dy="3.72">s</tspan><tspan dy="-3.72">(</tspan>C18H<tspan font-size="10.32" dy="3.72">2</tspan><tspan dy="-3.72"></tspan>)</text>
<text transform="translate(464.50,401.50) scale(0.788,1)" font-family="'Liberation Serif', serif" font-size="18.00" font-weight="bold" fill="#5040c0" text-anchor="middle">*</text>
<text transform="translate(446.60,703.50) scale(0.836,1)" font-family="'Liberation Serif', serif" font-size="18.00" font-weight="bold" fill="#5040c0" text-anchor="middle">*</text>
<text transform="translate(289.45,961.80) scale(1.324,1)" font-family="'Liberation Serif', serif" font-size="13.77" font-weight="bold" fill="#000" text-anchor="middle">Wavenumber (cm<tspan font-size="8.26" dy="-5.51">-1</tspan><tspan dy="5.51">)</tspan></text>
<line x1="447.5" y1="500.9" x2="436.3" y2="497.4" stroke="#b39a2a" stroke-width="1.3"/>
<path d="M432.0,496.1 L436.9,495.3 L435.6,499.5 Z" fill="#b39a2a"/>
<line x1="394.2" y1="536.0" x2="396.0" y2="533.8" stroke="#b39a2a" stroke-width="1.3"/>
<path d="M398.8,530.3 L397.7,535.2 L394.3,532.4 Z" fill="#b39a2a"/>
<line x1="353.6" y1="561.0" x2="363.8" y2="558.9" stroke="#b39a2a" stroke-width="1.3"/>
<path d="M368.2,558.0 L364.2,561.1 L363.3,556.8 Z" fill="#b39a2a"/>
<path d="M342.60,17.74 L354.60,17.87 L362.40,18.08 L367.60,18.42 L371.40,18.97 L373.00,19.39 L374.20,19.85 L375.20,20.37 L376.20,21.12 L377.00,21.95 L377.60,22.79 L378.20,23.90 L378.80,25.39 L379.60,28.36 L380.40,33.34 L381.00,39.56 L381.60,49.79 L382.00,60.37 L382.40,75.42 L383.40,127.09 L383.60,132.28 L383.80,132.38 L384.20,118.55 L385.20,69.06 L385.60,57.29 L386.00,49.81 L386.40,45.83 L386.60,45.09 L386.80,45.28 L387.00,46.49 L387.20,48.75 L387.60,54.41 L387.80,55.00 L388.00,52.55 L388.80,35.17 L389.40,28.75 L390.00,25.54 L390.60,23.69 L391.40,22.19 L392.00,21.44 L392.60,20.89 L393.40,20.34 L394.20,19.95 L396.20,19.32 L399.00,18.94 L401.80,18.90 L403.80,19.13 L405.40,19.66 L406.00,20.01 L406.60,20.51 L407.40,21.59 L408.00,22.95 L408.40,24.32 L408.80,26.28 L409.20,29.17 L409.60,33.43 L410.60,49.53 L410.80,51.27 L411.00,51.27 L411.20,49.53 L412.20,33.41 L412.80,27.55 L413.20,25.17 L413.80,22.91 L414.40,21.55 L415.00,20.68 L416.00,19.84 L416.60,19.54 L417.40,19.31 L418.20,19.23 L419.00,19.33 L419.60,19.57 L420.60,20.21 L421.00,20.30 L421.40,20.15 L422.40,19.37 L423.20,18.96 L424.40,18.70 L425.80,18.69 L427.00,18.95 L427.80,19.43 L428.40,20.17 L429.20,21.72 L429.40,21.96 L429.60,21.99 L429.80,21.81 L430.60,20.50 L431.00,20.11 L431.60,19.91 L432.20,20.09 L432.60,20.43 L433.00,21.02 L433.40,21.97 L434.00,23.95 L434.20,24.40 L434.40,24.51 L434.60,24.30 L435.40,22.83 L435.60,22.72 L436.00,22.86 L436.40,23.46 L436.60,23.95 L437.00,25.40 L437.40,27.70 L437.80,31.30 L438.20,36.87 L439.00,52.93 L439.20,55.20 L439.40,55.18 L439.60,52.88 L440.60,33.54 L441.00,28.94 L441.40,25.93 L442.00,23.17 L442.40,22.01 L442.80,21.18 L443.20,20.56 L443.80,19.90 L444.40,19.44 L445.20,19.02 L447.00,18.49 L449.40,18.16 L452.80,17.95 L458.00,17.81 L477.60,17.67 L526.80,17.62" fill="none" stroke="#000" stroke-width="1.5" stroke-linejoin="round"/>
<path d="M64.30,176.01 L265.30,176.81 L300.10,177.02 L317.30,177.23 L324.10,177.51 L325.90,177.72 L327.30,178.04 L328.30,178.47 L329.10,179.06 L329.70,179.74 L330.90,181.57 L331.30,181.88 L331.50,181.89 L331.90,181.59 L333.10,179.83 L333.90,179.01 L334.90,178.45 L336.30,178.10 L339.10,177.93 L343.10,178.11 L346.50,178.55 L349.10,179.22 L350.70,179.92 L352.10,180.90 L353.10,181.99 L354.10,183.64 L354.90,185.69 L355.50,187.95 L356.10,191.24 L356.50,194.33 L356.90,198.49 L357.30,204.25 L357.90,217.54 L358.30,230.95 L359.30,275.05 L359.50,279.37 L359.70,279.54 L360.10,268.38 L361.10,226.61 L361.50,216.39 L362.10,207.78 L362.50,205.59 L362.70,205.51 L362.90,206.14 L363.10,207.57 L363.50,213.09 L364.10,224.42 L364.30,225.50 L364.50,223.83 L365.30,206.95 L365.50,204.07 L365.90,200.99 L366.10,200.68 L366.30,201.18 L366.50,202.54 L367.30,215.23 L367.50,217.36 L367.70,216.94 L368.50,200.65 L369.10,192.33 L369.70,188.38 L370.10,187.01 L370.30,186.56 L370.70,186.02 L371.10,185.87 L371.50,186.08 L372.10,187.14 L372.70,189.43 L373.10,192.03 L373.70,198.56 L374.50,212.83 L374.90,217.77 L375.10,217.75 L375.30,215.93 L376.50,195.76 L376.90,191.76 L377.50,188.08 L377.90,186.60 L378.30,185.62 L378.90,184.79 L379.50,184.50 L380.10,184.67 L380.70,185.30 L381.30,186.49 L381.70,187.73 L382.30,190.59 L382.70,193.53 L383.30,200.61 L383.90,212.86 L384.70,234.96 L384.90,237.85 L385.10,238.04 L385.50,231.07 L386.30,210.85 L386.70,204.50 L386.90,202.33 L387.30,199.59 L387.50,198.91 L387.70,198.63 L387.90,198.73 L388.10,199.22 L388.50,201.44 L388.70,203.25 L389.30,212.37 L390.30,241.53 L390.70,249.67 L390.90,249.52 L391.10,246.31 L392.30,209.85 L392.70,202.16 L393.10,196.80 L393.70,191.62 L394.30,188.49 L394.70,187.10 L395.30,185.69 L395.70,185.09 L396.30,184.57 L396.90,184.44 L397.50,184.70 L398.10,185.40 L398.70,186.71 L399.10,188.06 L399.50,189.96 L400.10,194.41 L400.50,199.02 L400.90,205.60 L401.90,231.19 L402.30,237.99 L402.50,237.95 L402.70,235.43 L403.70,209.31 L404.10,201.35 L404.50,195.66 L405.10,190.06 L405.90,185.76 L406.30,184.38 L406.90,182.87 L407.50,181.80 L408.30,180.81 L409.10,180.12 L410.10,179.51 L411.10,179.09 L412.50,178.68 L416.10,178.10 L421.30,177.73 L428.90,177.51 L457.50,177.31 L526.70,177.33" fill="none" stroke="#000" stroke-width="1.5" stroke-linejoin="round"/>
<path d="M64.30,298.83 L88.90,298.92 L93.70,299.02 L96.50,299.20 L98.30,299.52 L99.50,300.07 L100.30,300.83 L101.50,302.71 L101.90,303.00 L102.30,302.79 L103.30,301.41 L103.90,300.93 L104.30,300.84 L104.70,300.92 L105.70,301.72 L106.10,301.77 L107.50,300.28 L108.10,299.96 L108.90,299.79 L110.30,299.91 L111.30,300.38 L112.10,301.19 L113.10,302.73 L113.50,303.00 L113.90,302.78 L114.90,301.44 L115.50,300.99 L115.90,300.91 L116.30,301.01 L117.10,301.65 L117.50,301.80 L117.90,301.52 L118.90,300.38 L119.50,300.03 L120.10,299.88 L121.10,299.93 L121.90,300.30 L122.50,300.88 L123.30,302.04 L123.70,302.30 L124.10,302.01 L124.90,300.79 L125.50,300.14 L126.30,299.67 L127.50,299.35 L129.90,299.15 L134.10,299.11 L138.10,299.22 L140.90,299.48 L142.30,299.78 L143.50,300.28 L144.30,300.88 L145.10,301.96 L145.70,303.36 L146.10,304.77 L147.30,310.85 L147.50,311.33 L147.70,311.34 L148.10,310.02 L149.10,304.88 L149.50,303.50 L150.10,302.15 L150.90,301.15 L151.70,300.65 L152.70,300.38 L153.90,300.40 L154.90,300.71 L155.70,301.26 L156.30,301.98 L156.90,303.17 L157.30,304.39 L157.70,306.08 L158.70,311.96 L158.90,312.73 L159.10,313.00 L159.30,312.72 L159.50,311.94 L160.50,306.00 L160.90,304.28 L161.30,303.03 L161.90,301.80 L162.50,301.02 L163.30,300.39 L164.10,300.00 L165.90,299.54 L168.50,299.27 L172.70,299.13 L178.50,299.10 L183.70,299.19 L187.30,299.38 L189.90,299.68 L191.90,300.18 L192.90,300.64 L193.70,301.19 L194.30,301.80 L194.90,302.69 L195.50,304.03 L195.90,305.33 L196.50,308.36 L197.10,313.75 L197.50,319.67 L198.50,343.19 L198.70,345.84 L198.90,345.85 L199.10,343.19 L199.90,323.61 L200.30,316.42 L200.70,311.59 L201.10,308.37 L201.70,305.34 L202.50,303.08 L202.90,302.36 L203.50,301.59 L204.10,301.04 L204.90,300.54 L205.90,300.13 L206.90,299.86 L209.90,299.44 L214.30,299.21 L223.90,299.15 L232.30,299.36 L236.90,299.80 L238.50,300.14 L239.90,300.61 L240.90,301.15 L241.90,301.99 L242.70,303.06 L243.30,304.26 L243.90,306.06 L244.30,307.80 L244.70,310.21 L245.10,313.67 L245.70,322.29 L246.10,331.94 L247.10,372.53 L247.30,377.35 L247.50,377.35 L247.70,372.53 L248.50,338.49 L248.90,326.62 L249.30,318.82 L249.70,313.70 L250.10,310.24 L250.70,306.89 L251.50,304.30 L251.90,303.46 L252.50,302.52 L253.10,301.85 L253.90,301.22 L254.70,300.78 L255.70,300.40 L258.30,299.86 L260.70,299.64 L263.70,299.53 L270.30,299.64 L272.70,299.84 L274.50,300.11 L275.90,300.45 L277.10,300.94 L278.30,301.77 L278.90,302.45 L279.30,303.07 L280.10,304.98 L280.70,307.53 L281.10,310.21 L281.50,314.12 L282.50,328.82 L282.70,330.45 L282.90,330.54 L283.10,329.07 L283.90,317.60 L284.30,313.28 L284.70,310.45 L285.30,308.10 L285.70,307.35 L286.10,307.06 L286.30,307.06 L286.70,307.31 L287.10,307.91 L287.50,308.91 L287.90,310.38 L288.50,313.89 L288.90,317.56 L289.30,322.97 L289.90,336.72 L290.50,362.64 L291.10,401.13 L291.30,410.85 L291.50,414.50 L291.70,410.80 L291.90,401.03 L292.50,362.40 L292.90,343.31 L293.30,330.66 L293.90,319.33 L294.30,314.73 L294.70,311.49 L295.30,308.21 L295.90,306.07 L296.70,304.21 L297.50,303.02 L298.50,302.04 L299.70,301.31 L300.90,300.84 L302.30,300.50 L304.10,300.26 L305.90,300.18 L307.50,300.24 L308.90,300.45 L309.90,300.77 L310.70,301.22 L311.30,301.78 L311.70,302.33 L312.10,303.11 L312.50,304.22 L313.10,306.78 L313.90,311.17 L314.10,311.72 L314.30,311.75 L314.50,311.25 L315.30,307.09 L315.90,304.72 L316.30,303.75 L316.90,302.91 L317.30,302.63 L317.90,302.47 L318.50,302.58 L318.90,302.78 L319.50,303.30 L319.90,303.82 L320.70,305.49 L321.30,307.64 L321.90,311.24 L322.30,315.07 L322.70,320.85 L323.30,335.70 L324.10,366.98 L324.30,371.41 L324.50,371.40 L324.70,366.96 L325.50,335.63 L325.90,324.69 L326.30,317.51 L326.70,312.79 L327.30,308.40 L327.70,306.52 L328.30,304.61 L328.90,303.35 L329.50,302.49 L330.30,301.71 L331.10,301.18 L332.70,300.57 L334.50,300.25 L336.70,300.18 L338.50,300.37 L339.90,300.80 L340.90,301.42 L341.70,302.32 L342.30,303.46 L342.70,304.62 L343.10,306.29 L343.70,310.51 L344.30,318.41 L344.90,330.12 L345.10,333.08 L345.30,334.20 L345.50,333.08 L345.70,330.12 L346.30,318.40 L346.70,312.61 L347.10,308.78 L347.50,306.27 L348.10,303.96 L348.90,302.29 L349.30,301.77 L349.90,301.22 L350.50,300.85 L351.30,300.52 L353.10,300.20 L355.10,300.25 L356.50,300.61 L357.10,300.92 L357.70,301.40 L358.30,302.16 L358.90,303.41 L359.50,305.43 L360.30,308.98 L360.50,309.56 L360.70,309.80 L360.90,309.65 L361.10,309.16 L361.90,306.01 L362.30,304.80 L362.90,303.77 L363.30,303.52 L363.50,303.50 L363.90,303.66 L364.50,304.37 L365.50,306.24 L365.90,306.60 L366.10,306.56 L366.50,306.05 L367.70,303.30 L368.30,302.31 L368.70,301.84 L369.30,301.37 L369.90,301.08 L370.50,300.95 L371.10,300.94 L371.70,301.06 L372.70,301.63 L373.30,302.29 L374.50,304.15 L374.90,304.48 L375.10,304.49 L375.50,304.18 L376.70,302.42 L377.30,301.83 L378.10,301.47 L378.90,301.51 L379.50,301.80 L380.10,302.38 L381.50,304.63 L381.90,304.98 L382.10,304.99 L382.50,304.64 L383.70,302.68 L384.50,301.88 L385.30,301.56 L385.90,301.60 L386.30,301.75 L387.10,302.43 L387.70,303.42 L388.30,305.02 L389.30,308.80 L389.70,309.66 L389.90,309.66 L390.30,308.81 L391.10,305.74 L391.70,303.93 L392.30,302.83 L392.90,302.26 L393.50,302.14 L393.90,302.30 L394.30,302.67 L395.10,303.78 L395.50,304.00 L395.90,303.66 L396.70,302.29 L397.10,301.78 L397.50,301.46 L397.90,301.33 L398.30,301.36 L398.70,301.56 L399.90,302.91 L400.10,303.00 L400.30,302.97 L400.70,302.53 L401.70,300.96 L402.30,300.36 L403.50,299.75 L405.10,299.41 L409.10,299.14 L417.10,299.01 L432.30,299.01 L443.30,299.16 L448.30,299.37 L451.70,299.69 L454.30,300.18 L456.10,300.82 L457.30,301.54 L458.30,302.49 L459.10,303.65 L459.70,304.91 L460.30,306.72 L460.70,308.40 L461.10,310.63 L461.50,313.68 L462.10,320.69 L462.50,327.94 L463.10,344.79 L463.90,373.71 L464.10,377.24 L464.30,377.24 L464.70,367.54 L465.70,332.66 L466.10,323.98 L466.50,317.93 L467.10,312.03 L467.90,307.50 L468.70,304.91 L469.30,303.64 L469.90,302.73 L470.50,302.05 L471.30,301.39 L472.30,300.81 L473.30,300.41 L474.50,300.07 L476.10,299.76 L479.90,299.36 L485.30,299.12 L493.30,298.98 L526.70,298.85" fill="none" stroke="#000" stroke-width="1.5" stroke-linejoin="round"/>
<path d="M108.80,310.10 L109.55,310.63 L110.24,311.13 L110.89,311.60 L111.51,312.06 L112.14,312.52 L112.79,312.99 L113.48,313.48 L114.23,314.02 L115.07,314.60 L116.01,315.26 L117.08,315.98 L118.30,316.80 L119.68,317.72 L121.21,318.72 L122.86,319.80 L124.63,320.95 L126.47,322.15 L128.38,323.38 L130.33,324.64 L132.31,325.92 L134.28,327.19 L136.24,328.46 L138.15,329.70 L140.00,330.90 L141.81,332.07 L143.63,333.24 L145.44,334.39 L147.26,335.54 L149.08,336.70 L150.89,337.86 L152.71,339.02 L154.53,340.20 L156.35,341.39 L158.17,342.60 L159.98,343.84 L161.80,345.10 L163.62,346.39 L165.43,347.72 L167.25,349.07 L169.06,350.45 L170.88,351.84 L172.69,353.24 L174.51,354.64 L176.33,356.04 L178.14,357.43 L179.96,358.81 L181.78,360.17 L183.60,361.50 L185.42,362.81 L187.25,364.11 L189.07,365.41 L190.90,366.69 L192.72,367.97 L194.55,369.24 L196.38,370.50 L198.20,371.75 L200.03,373.00 L201.85,374.24 L203.68,375.47 L205.50,376.70 L207.32,377.93 L209.14,379.16 L210.96,380.40 L212.77,381.63 L214.59,382.85 L216.41,384.07 L218.22,385.27 L220.04,386.45 L221.85,387.61 L223.67,388.74 L225.48,389.84 L227.30,390.90 L229.13,391.93 L231.00,392.93 L232.88,393.91 L234.77,394.86 L236.66,395.79 L238.54,396.69 L240.41,397.58 L242.24,398.45 L244.04,399.31 L245.78,400.15 L247.48,400.98 L249.10,401.80 L250.64,402.60 L252.10,403.38 L253.48,404.14 L254.82,404.88 L256.11,405.61 L257.39,406.32 L258.65,407.02 L259.93,407.72 L261.22,408.41 L262.56,409.10 L263.94,409.80 L265.40,410.50 L266.92,411.21 L268.47,411.95 L270.07,412.69 L271.69,413.43 L273.33,414.17 L274.99,414.90 L276.66,415.61 L278.34,416.30 L280.02,416.96 L281.69,417.59 L283.35,418.17 L285.00,418.70 L286.66,419.20 L288.35,419.69 L290.07,420.16 L291.80,420.61 L293.54,421.02 L295.26,421.41 L296.95,421.75 L298.62,422.04 L300.24,422.27 L301.80,422.45 L303.29,422.56 L304.70,422.60 L306.02,422.58 L307.27,422.51 L308.44,422.39 L309.56,422.22 L310.63,421.99 L311.66,421.71 L312.68,421.37 L313.68,420.97 L314.68,420.50 L315.69,419.97 L316.73,419.37 L317.80,418.70 L318.89,417.95 L319.98,417.12 L321.07,416.22 L322.17,415.26 L323.26,414.22 L324.35,413.13 L325.44,411.98 L326.53,410.79 L327.62,409.55 L328.72,408.27 L329.81,406.95 L330.90,405.60 L331.99,404.23 L333.08,402.82 L334.18,401.39 L335.27,399.91 L336.36,398.40 L337.46,396.83 L338.55,395.20 L339.64,393.51 L340.73,391.75 L341.82,389.91 L342.91,388.00 L344.00,386.00 L345.10,383.87 L346.23,381.58 L347.37,379.17 L348.53,376.66 L349.68,374.08 L350.82,371.46 L351.94,368.83 L353.04,366.22 L354.10,363.65 L355.12,361.16 L356.09,358.76 L357.00,356.50 L357.84,354.34 L358.63,352.25 L359.38,350.21 L360.07,348.22 L360.74,346.28 L361.38,344.38 L361.99,342.51 L362.59,340.67 L363.19,338.85 L363.78,337.06 L364.38,335.27 L365.00,333.50 L365.62,331.75 L366.22,330.05 L366.82,328.38 L367.41,326.74 L367.99,325.13 L368.56,323.53 L369.13,321.95 L369.70,320.37 L370.27,318.79 L370.84,317.21 L371.42,315.61 L372.00,314.00" fill="none" stroke="#000" stroke-width="1.5" stroke-dasharray="5.2,3.4"/>
<path d="M300.20,431.61 L332.00,431.80 L339.20,431.97 L343.00,432.23 L344.20,432.42 L345.20,432.70 L346.00,433.07 L346.60,433.52 L347.40,434.56 L348.60,437.13 L348.80,437.40 L349.00,437.50 L349.20,437.41 L349.40,437.15 L350.40,435.02 L350.80,434.36 L351.40,433.69 L352.20,433.18 L353.40,432.83 L354.80,432.68 L357.00,432.69 L359.40,432.85 L361.60,433.12 L363.60,433.51 L365.40,434.02 L366.80,434.60 L368.00,435.30 L369.00,436.10 L370.00,437.21 L370.80,438.43 L371.60,440.12 L372.20,441.85 L372.80,444.18 L373.40,447.41 L374.20,454.04 L375.00,465.59 L375.60,480.36 L376.00,494.96 L377.20,560.68 L377.40,568.05 L377.60,571.00 L377.80,569.01 L378.00,562.62 L379.00,512.97 L379.40,501.12 L379.60,498.01 L379.80,496.84 L380.00,497.56 L380.40,502.44 L380.60,503.59 L380.80,501.49 L381.60,476.33 L381.80,471.92 L382.20,466.85 L382.40,465.92 L382.60,465.89 L382.80,466.67 L383.60,473.02 L383.80,473.00 L384.20,468.72 L385.00,455.12 L385.60,448.62 L386.00,445.93 L386.40,444.09 L387.00,442.36 L387.60,441.46 L388.00,441.20 L388.60,441.25 L389.20,441.85 L389.60,442.63 L390.00,443.80 L390.40,445.50 L391.00,449.55 L391.40,453.77 L391.80,459.83 L392.80,483.40 L393.20,489.70 L393.40,489.70 L393.60,487.42 L394.60,463.69 L395.00,456.52 L395.40,451.44 L396.00,446.57 L396.40,444.52 L397.00,442.55 L397.60,441.47 L398.00,441.10 L398.40,440.95 L398.80,441.00 L399.20,441.26 L399.80,442.06 L400.40,443.46 L401.00,445.72 L401.60,449.32 L402.00,452.93 L402.40,458.04 L402.80,465.45 L403.40,483.44 L404.20,521.03 L404.40,528.41 L404.60,532.00 L404.80,531.13 L405.60,507.41 L405.80,503.32 L406.00,501.22 L406.20,501.22 L406.40,503.32 L407.20,526.58 L407.40,531.15 L407.60,532.00 L407.80,528.39 L408.00,520.98 L409.00,476.08 L409.40,465.16 L409.80,457.68 L410.40,450.50 L410.80,447.37 L411.20,445.07 L411.60,443.35 L412.20,441.52 L412.80,440.29 L413.60,439.29 L414.00,439.00 L414.60,438.77 L415.20,438.79 L415.60,438.94 L416.40,439.62 L417.20,440.96 L417.80,442.62 L418.40,445.15 L418.80,447.58 L419.20,450.88 L419.80,458.29 L420.20,465.72 L420.80,482.15 L421.60,509.81 L421.80,514.08 L422.00,515.60 L422.20,514.03 L422.40,509.69 L423.20,481.79 L423.80,465.17 L424.20,457.62 L424.80,450.00 L425.60,443.98 L426.00,442.01 L426.60,439.83 L427.20,438.28 L427.80,437.14 L428.60,436.04 L429.60,435.08 L430.60,434.42 L431.80,433.85 L433.20,433.39 L435.00,432.99 L439.60,432.43 L446.20,432.07 L455.80,431.84 L470.40,431.70 L526.80,431.56" fill="none" stroke="#000" stroke-width="1.5" stroke-linejoin="round"/>
<path d="M68.40,609.48 L77.20,609.64 L82.40,609.95 L84.20,610.19 L85.60,610.49 L86.80,610.91 L87.80,611.46 L88.60,612.14 L89.20,612.88 L89.80,613.92 L90.40,615.42 L91.20,618.49 L92.40,625.04 L92.80,626.41 L93.00,626.60 L93.20,626.42 L93.40,625.88 L95.00,617.65 L95.40,616.14 L96.00,614.46 L96.80,613.01 L97.60,612.11 L98.60,611.42 L99.80,610.96 L101.80,610.65 L103.80,610.74 L105.20,611.12 L105.80,611.43 L106.40,611.89 L107.20,612.89 L107.80,614.12 L108.40,615.93 L109.40,619.56 L109.60,619.96 L109.80,620.10 L110.00,619.96 L110.20,619.55 L111.40,615.22 L112.00,613.59 L112.80,612.24 L113.80,611.31 L114.60,610.89 L115.60,610.57 L118.20,610.24 L120.00,610.21 L121.80,610.30 L123.20,610.50 L124.40,610.81 L125.20,611.16 L126.00,611.73 L126.60,612.41 L127.20,613.45 L128.00,615.84 L129.20,621.31 L129.40,621.73 L129.60,621.77 L130.00,620.74 L130.80,617.16 L131.40,615.21 L131.80,614.41 L132.20,613.91 L132.60,613.66 L133.20,613.69 L133.60,613.96 L134.00,614.47 L134.40,615.28 L134.80,616.48 L135.40,619.24 L136.20,624.21 L136.60,625.64 L136.80,625.62 L137.00,625.07 L138.20,617.83 L138.80,615.29 L139.60,613.30 L140.40,612.21 L141.20,611.58 L142.00,611.19 L143.20,610.87 L144.60,610.71 L146.20,610.70 L147.80,610.85 L149.20,611.14 L150.40,611.58 L151.20,612.03 L152.00,612.69 L152.60,613.39 L153.20,614.37 L154.00,616.41 L154.80,619.95 L155.20,622.71 L155.60,626.49 L156.00,631.58 L157.00,647.87 L157.20,649.88 L157.40,650.60 L157.60,649.90 L157.80,647.92 L158.80,631.75 L159.40,624.73 L159.80,621.59 L160.20,619.34 L160.60,617.74 L161.20,616.24 L161.60,615.73 L162.00,615.57 L162.40,615.77 L163.00,616.40 L163.20,616.45 L163.40,616.30 L164.60,613.41 L165.20,612.46 L166.20,611.61 L167.60,611.07 L168.80,610.85 L170.20,610.74 L173.40,610.83 L176.00,611.29 L177.00,611.63 L178.00,612.11 L179.00,612.82 L179.80,613.66 L180.60,614.89 L181.20,616.22 L181.80,618.11 L182.20,619.83 L183.00,625.12 L183.60,631.82 L184.00,638.38 L185.20,668.73 L185.60,675.01 L185.80,675.01 L186.00,672.77 L187.40,638.36 L187.80,631.80 L188.40,625.10 L189.00,620.86 L189.80,617.37 L190.20,616.18 L190.80,614.84 L191.40,613.87 L192.20,612.94 L193.40,612.03 L194.80,611.39 L196.60,610.90 L198.60,610.63 L201.00,610.56 L202.60,610.81 L203.60,611.29 L204.80,612.45 L205.20,612.69 L205.60,612.60 L207.20,611.15 L208.40,610.70 L209.60,610.57 L210.80,610.60 L212.20,610.81 L213.20,611.12 L214.00,611.54 L214.80,612.24 L215.40,613.12 L215.80,613.98 L216.20,615.18 L216.60,616.84 L217.60,622.55 L217.80,623.31 L218.00,623.60 L218.20,623.37 L218.40,622.67 L219.40,617.32 L220.00,615.26 L220.40,614.45 L221.00,613.80 L221.40,613.66 L222.00,613.81 L222.40,614.17 L222.80,614.78 L223.20,615.71 L223.60,617.08 L224.20,620.35 L225.20,628.64 L225.40,629.72 L225.60,630.10 L225.80,629.68 L226.00,628.56 L227.00,620.06 L227.40,617.59 L227.80,615.81 L228.20,614.54 L228.80,613.25 L229.40,612.42 L230.20,611.72 L231.60,611.06 L233.60,610.65 L236.40,610.47 L240.00,610.52 L243.40,610.79 L246.20,611.22 L248.40,611.82 L250.20,612.62 L251.60,613.60 L252.60,614.63 L253.60,616.12 L254.40,617.86 L255.20,620.38 L255.80,623.11 L256.40,626.97 L256.80,630.48 L257.40,637.91 L258.00,649.36 L258.60,666.91 L259.60,707.18 L260.00,716.27 L260.20,716.31 L260.60,707.40 L261.80,661.02 L262.40,646.04 L262.80,639.19 L263.40,632.12 L264.00,627.57 L264.60,624.63 L265.20,622.76 L265.60,621.96 L266.00,621.46 L266.40,621.21 L266.80,621.22 L267.40,621.71 L268.00,622.88 L268.60,624.92 L269.20,628.25 L269.60,631.52 L270.20,638.89 L270.80,650.86 L271.20,662.53 L272.20,700.08 L272.40,704.68 L272.60,706.30 L272.80,704.62 L273.00,699.96 L274.00,662.11 L274.60,645.63 L275.00,638.19 L275.40,632.80 L275.80,628.87 L276.20,626.00 L276.60,623.91 L277.20,621.89 L277.60,621.16 L277.80,620.97 L278.00,620.90 L278.20,620.96 L278.40,621.16 L278.80,622.06 L279.20,623.78 L280.20,631.38 L280.40,632.42 L280.60,632.70 L280.80,632.09 L281.00,630.70 L281.80,622.92 L282.20,619.93 L282.60,617.78 L283.00,616.24 L283.80,614.29 L284.60,613.15 L285.60,612.28 L287.00,611.55 L288.60,611.05 L290.80,610.63 L293.40,610.32 L296.80,610.08 L307.00,609.77 L321.00,609.71 L329.00,609.87 L334.00,610.22 L335.80,610.51 L337.20,610.86 L338.40,611.32 L339.40,611.91 L340.20,612.62 L340.80,613.36 L341.40,614.39 L341.80,615.31 L342.60,618.06 L343.20,621.44 L343.80,626.82 L344.20,632.05 L345.40,652.86 L345.60,654.40 L345.80,654.40 L346.20,650.10 L347.40,629.27 L347.80,624.77 L348.40,620.18 L349.20,616.55 L349.60,615.37 L350.20,614.08 L350.80,613.17 L351.40,612.52 L352.20,611.90 L353.00,611.47 L354.00,611.11 L355.00,610.87 L356.20,610.71 L357.60,610.66 L358.80,610.73 L359.80,610.90 L360.60,611.16 L361.40,611.59 L362.20,612.31 L363.00,613.54 L363.60,614.99 L364.80,618.90 L365.20,619.57 L365.40,619.57 L365.80,618.88 L367.00,614.92 L367.80,613.06 L368.20,612.43 L368.80,611.74 L369.40,611.27 L370.20,610.85 L371.60,610.43 L373.40,610.17 L375.60,610.09 L377.60,610.22 L378.40,610.39 L379.20,610.72 L379.80,611.16 L381.00,612.39 L381.40,612.49 L381.80,612.25 L383.00,611.08 L383.80,610.68 L384.60,610.50 L385.40,610.47 L387.00,610.70 L387.80,610.99 L388.60,611.50 L389.20,612.12 L389.80,613.09 L390.60,615.35 L391.80,620.99 L392.00,621.58 L392.20,621.80 L392.40,621.60 L392.60,621.02 L393.60,616.27 L394.20,614.23 L394.60,613.33 L395.00,612.70 L395.60,612.12 L396.20,611.85 L396.60,611.82 L397.00,611.92 L397.60,612.36 L398.20,613.32 L399.00,615.26 L399.20,615.59 L399.40,615.70 L399.60,615.56 L399.80,615.19 L400.60,613.11 L401.00,612.33 L401.40,611.79 L402.00,611.33 L402.60,611.15 L403.40,611.24 L404.00,611.58 L405.00,612.43 L405.40,612.48 L405.80,612.20 L406.80,611.11 L407.40,610.67 L408.40,610.26 L409.60,610.04 L411.80,609.91 L414.00,609.98 L415.60,610.19 L416.80,610.60 L417.60,611.17 L418.20,611.92 L418.60,612.67 L419.40,614.66 L419.80,615.27 L420.00,615.27 L420.20,615.05 L421.20,612.68 L422.00,611.39 L422.40,611.01 L423.00,610.62 L424.20,610.22 L425.60,610.03 L427.40,609.95 L432.40,610.10 L435.80,610.53 L437.20,610.86 L438.40,611.28 L439.60,611.93 L440.60,612.77 L441.40,613.77 L442.00,614.84 L442.60,616.35 L443.20,618.53 L444.00,623.30 L444.60,629.45 L445.20,639.57 L446.40,673.75 L446.60,677.61 L446.80,679.00 L447.00,677.61 L447.20,673.74 L448.40,639.56 L448.80,632.26 L449.40,625.02 L450.20,619.46 L451.00,616.32 L451.40,615.26 L452.00,614.07 L452.60,613.19 L453.40,612.36 L454.20,611.76 L455.20,611.24 L456.40,610.80 L457.60,610.50 L460.80,610.04 L465.60,609.73 L472.40,609.55 L482.80,609.44 L526.80,609.34" fill="none" stroke="#000" stroke-width="1.5" stroke-linejoin="round"/>
<path d="M73.80,620.90 L76.62,622.90 L79.44,624.91 L82.27,626.93 L85.10,628.94 L87.93,630.96 L90.76,632.97 L93.59,634.98 L96.41,636.98 L99.22,638.98 L102.02,640.96 L104.82,642.94 L107.60,644.90 L110.36,646.85 L113.10,648.78 L115.82,650.70 L118.52,652.61 L121.22,654.51 L123.92,656.41 L126.62,658.30 L129.33,660.19 L132.06,662.09 L134.81,663.98 L137.59,665.89 L140.40,667.80 L143.28,669.75 L146.25,671.74 L149.28,673.76 L152.36,675.80 L155.44,677.84 L158.52,679.87 L161.57,681.87 L164.57,683.82 L167.48,685.72 L170.29,687.54 L172.97,689.27 L175.50,690.90 L177.86,692.43 L180.08,693.89 L182.17,695.28 L184.15,696.60 L186.06,697.87 L187.91,699.08 L189.72,700.24 L191.53,701.36 L193.34,702.44 L195.20,703.49 L197.11,704.51 L199.10,705.50 L201.12,706.46 L203.12,707.37 L205.11,708.24 L207.09,709.07 L209.09,709.86 L211.11,710.61 L213.17,711.33 L215.29,712.02 L217.46,712.68 L219.71,713.31 L222.06,713.91 L224.50,714.50 L227.07,715.08 L229.78,715.65 L232.59,716.22 L235.49,716.77 L238.45,717.28 L241.46,717.76 L244.48,718.19 L247.50,718.57 L250.49,718.87 L253.44,719.10 L256.32,719.25 L259.10,719.30 L261.82,719.27 L264.53,719.19 L267.21,719.04 L269.87,718.84 L272.51,718.56 L275.12,718.22 L277.70,717.80 L280.24,717.31 L282.74,716.73 L285.21,716.08 L287.63,715.33 L290.00,714.50 L292.33,713.56 L294.61,712.51 L296.84,711.36 L299.04,710.12 L301.20,708.80 L303.32,707.41 L305.41,705.96 L307.47,704.47 L309.51,702.93 L311.53,701.37 L313.52,699.79 L315.50,698.20 L317.45,696.59 L319.35,694.92 L321.21,693.21 L323.04,691.45 L324.85,689.66 L326.63,687.83 L328.40,685.97 L330.17,684.09 L331.94,682.19 L333.71,680.27 L335.50,678.34 L337.30,676.40 L339.12,674.44 L340.93,672.44 L342.75,670.41 L344.57,668.36 L346.38,666.28 L348.20,664.19 L350.02,662.09 L351.83,659.98 L353.65,657.87 L355.47,655.77 L357.28,653.68 L359.10,651.60" fill="none" stroke="#000" stroke-width="1.5" stroke-dasharray="5.2,3.4"/>
<path d="M64.60,752.70 L66.64,751.90 L68.68,751.97 L70.64,751.48 L71.28,751.56 L75.00,753.60 L75.62,753.58 L77.50,751.84 L79.38,751.32 L80.00,751.33 L81.96,752.22 L85.46,752.19 L87.20,751.63 L88.00,751.72 L88.48,751.91 L89.00,752.51 L90.12,754.17 L91.85,756.99 L92.92,758.98 L94.84,760.89 L95.39,761.63 L96.70,764.26 L97.53,765.63 L99.54,766.96 L101.69,770.24 L103.63,772.26 L104.40,773.45 L106.19,777.21 L108.40,779.02 L110.30,782.58 L111.38,784.02 L115.06,788.13 L116.40,788.53 L117.85,790.31 L119.42,794.00 L122.82,799.63 L124.56,801.77 L126.28,803.45 L127.94,806.79 L130.97,811.18 L132.38,813.60 L133.75,816.88 L135.09,819.77 L136.41,820.89 L137.73,822.88 L140.40,827.52 L141.76,829.36 L143.12,830.83 L145.85,834.12 L151.30,840.40 L162.20,853.50 L167.65,859.77 L171.74,864.17 L174.48,866.77 L177.27,869.15 L182.73,873.29 L188.54,877.29 L190.70,878.54 L193.00,879.60 L196.58,880.98 L199.07,881.66 L201.80,882.00 L203.30,882.00 L206.49,881.73 L209.92,881.12 L213.66,880.08 L217.80,878.50 L222.28,876.27 L238.20,866.90 L256.44,856.67 L263.89,852.65 L267.30,850.90 L273.51,848.00 L284.83,843.28 L290.50,840.70 L296.72,837.44 L309.18,830.49 L313.80,828.20 L315.40,827.60 L316.57,827.29 L317.41,827.22 L318.01,827.33 L319.38,828.10 L320.73,828.52 L321.45,828.85 L324.23,830.36 L324.87,830.52 L325.50,830.50 L326.09,830.24 L326.66,829.78 L328.75,827.11 L329.27,826.57 L329.80,826.20 L330.35,826.03 L330.92,826.00 L333.71,826.49 L334.20,826.40 L334.88,826.11 L335.34,825.72 L338.30,822.54 L343.90,816.35 L346.87,813.41 L348.20,812.30 L350.65,810.67 L352.98,809.51 L355.20,808.83 L357.30,808.60 L359.27,808.79 L360.21,809.05 L361.12,809.43 L362.01,809.93 L362.86,810.57 L363.69,811.36 L365.27,813.35 L366.69,815.69 L368.01,818.65 L369.32,822.57 L370.69,827.84 L372.10,834.62 L375.50,854.00 L376.13,858.03 L378.50,876.11 L379.07,879.80 L379.64,882.61 L380.20,884.30 L380.75,884.72 L381.27,884.05 L381.79,882.55 L383.91,872.74 L384.50,870.50 L387.88,858.26 L389.30,853.91 L390.00,852.30 L390.69,851.19 L391.38,850.52 L392.07,850.17 L394.13,849.69 L394.82,849.31 L395.50,848.60 L396.18,847.57 L397.53,844.96 L400.22,839.03 L401.58,836.35 L403.65,831.90 L404.34,830.60 L405.03,829.55 L405.72,828.85 L406.40,828.60 L407.07,828.82 L407.71,829.42 L408.35,830.36 L408.99,831.56 L412.63,839.59 L416.42,849.63 L417.36,851.75 L418.27,853.31 L419.10,854.10 L419.88,854.01 L420.62,853.17 L421.34,851.77 L422.03,850.02 L423.92,844.49 L424.50,843.20 L425.02,842.40 L425.46,841.95 L426.62,841.11 L427.06,840.47 L427.58,839.39 L428.20,837.70 L429.77,832.26 L433.60,817.30 L435.50,810.50 L438.20,801.99 L440.90,794.56 L442.70,790.50 L444.35,787.43 L445.11,786.24 L446.73,784.25 L448.74,782.41 L451.44,780.33 L453.03,779.25 L456.57,777.13 L460.45,775.15 L462.46,774.24 L466.67,772.62 L469.05,771.89 L474.05,770.57 L487.80,767.45 L489.20,767.42 L490.00,767.50 L490.85,767.72 L491.69,768.12 L494.91,770.12 L495.71,770.42 L496.50,770.50 L497.24,770.37 L497.92,770.09 L498.56,769.68 L500.69,768.00 L502.70,766.80 L510.37,763.41 L517.14,760.82 L528.80,757.20" fill="none" stroke="#000" stroke-width="1.4" stroke-linejoin="round"/>
</svg></body></html>
